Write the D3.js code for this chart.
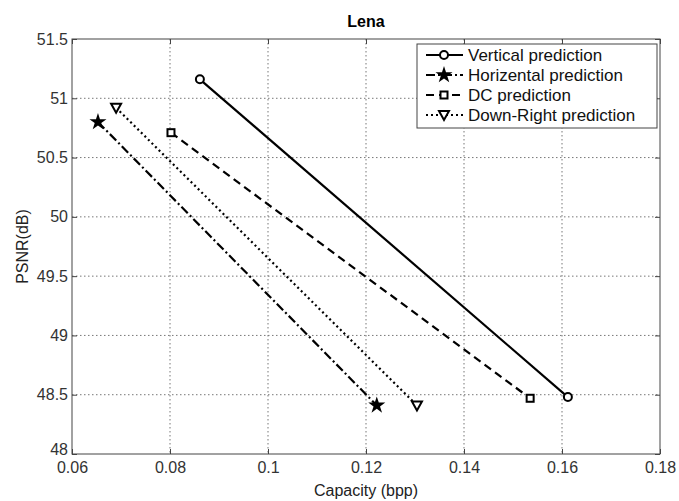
<!DOCTYPE html>
<html>
<head>
<meta charset="utf-8">
<script src="https://cdn.jsdelivr.net/npm/d3@7"></script>
<style>
  body { margin: 0; background: #fff; }
  svg { font-family: "Liberation Sans", Arial, sans-serif; }
</style>
</head>
<body>
<div id="chart"></div>
<script>
// data
const seriesNames = ["Vertical prediction", "Horizental prediction", "DC prediction", "Down-Right prediction"];
const vertical = [{ x: 0.0861, y: 51.16 }, { x: 0.1612, y: 48.48 }];
const horizental = [{ x: 0.0653, y: 50.80 }, { x: 0.1222, y: 48.41 }];
const dcPred = [{ x: 0.0802, y: 50.71 }, { x: 0.1535, y: 48.47 }];
const downRight = [{ x: 0.069, y: 50.92 }, { x: 0.1304, y: 48.41 }];
const xTicks = [0.06, 0.08, 0.1, 0.12, 0.14, 0.16, 0.18];
const yTicks = [48, 48.5, 49, 49.5, 50, 50.5, 51, 51.5];

const W = 679, H = 501;
const margin = { top: 39, right: 19, bottom: 47, left: 72 };
const width = W - margin.left - margin.right;
const height = H - margin.top - margin.bottom;

const svg = d3.select("#chart").append("svg")
  .attr("width", W).attr("height", H);
const g = svg.append("g").attr("transform", `translate(${margin.left},${margin.top})`);

const x = d3.scaleLinear().domain([0.06, 0.18]).range([0, width]);
const y = d3.scaleLinear().domain([48, 51.5]).range([height, 0]);

// grid
g.append("g").selectAll("line").data(xTicks.slice(1, -1)).enter().append("line")
  .attr("x1", d => x(d)).attr("x2", d => x(d)).attr("y1", 0).attr("y2", height)
  .attr("stroke", "#777").attr("stroke-dasharray", "1.5,2.5");
g.append("g").selectAll("line").data(yTicks.slice(1, -1)).enter().append("line")
  .attr("y1", d => y(d)).attr("y2", d => y(d)).attr("x1", 0).attr("x2", width)
  .attr("stroke", "#777").attr("stroke-dasharray", "1.5,2.5");

// axes with inward ticks
const fmt = d => String(+d.toFixed(2));
g.append("g").attr("transform", `translate(0,${height})`)
  .call(d3.axisBottom(x).tickValues(xTicks).tickFormat(fmt).tickSizeInner(-5).tickSizeOuter(0).tickPadding(8));
const yAxisG = g.append("g")
  .call(d3.axisLeft(y).tickValues(yTicks).tickFormat(fmt).tickSizeInner(-5).tickSizeOuter(0).tickPadding(4));
// lowest y label sits a little higher, as in the reference
yAxisG.selectAll(".tick text").filter(d => d === 48).attr("dy", "0.05em");
g.append("g").attr("transform", `translate(${width},0)`)
  .call(d3.axisRight(y).tickValues(yTicks).tickFormat("").tickSizeInner(-5).tickSizeOuter(0));
g.append("g")
  .call(d3.axisTop(x).tickValues(xTicks).tickFormat("").tickSizeInner(-5).tickSizeOuter(0));
g.selectAll(".domain").remove();
g.selectAll(".tick line").attr("stroke", "#444");
g.selectAll(".tick text").attr("font-size", 16).attr("fill", "#333");
g.append("rect").attr("width", width).attr("height", height)
  .attr("fill", "none").attr("stroke", "#444").attr("stroke-width", 1);

// series
const styles = [
  { data: vertical, dash: null, marker: "circle" },
  { data: horizental, dash: "9,3,2,3", marker: "star" },
  { data: dcPred, dash: "8,5", marker: "square" },
  { data: downRight, dash: "2,3", marker: "triangle" }
];

const line = d3.line().x(d => x(d.x)).y(d => y(d.y));

function drawMarker(sel, type, cx, cy) {
  if (type === "circle") {
    sel.append("circle").attr("cx", cx).attr("cy", cy).attr("r", 4)
      .attr("fill", "#fff").attr("stroke", "#000").attr("stroke-width", 2);
  } else if (type === "square") {
    sel.append("rect").attr("x", cx - 3.5).attr("y", cy - 3.5).attr("width", 7).attr("height", 7)
      .attr("fill", "#fff").attr("stroke", "#000").attr("stroke-width", 2);
  } else if (type === "triangle") {
    sel.append("path").attr("d", `M${cx - 5},${cy - 4}L${cx + 5},${cy - 4}L${cx},${cy + 5}Z`)
      .attr("fill", "#fff").attr("stroke", "#000").attr("stroke-width", 2);
  } else {
    sel.append("path").attr("d", d3.symbol(d3.symbolStar, 90)())
      .attr("transform", `translate(${cx},${cy})`).attr("fill", "#000");
  }
}

styles.forEach(s => {
  g.append("path").datum(s.data).attr("d", line)
    .attr("fill", "none").attr("stroke", "#000").attr("stroke-width", 2.2)
    .attr("stroke-dasharray", s.dash);
  s.data.forEach(d => drawMarker(g, s.marker, x(d.x), y(d.y)));
});

// legend
const lg = svg.append("g").attr("transform", "translate(417,44)");
lg.append("rect").attr("width", 240).attr("height", 84)
  .attr("fill", "#fff").attr("stroke", "#444");
seriesNames.forEach((name, i) => {
  const ry = 11 + i * 20;
  lg.append("line").attr("x1", 9).attr("x2", 46).attr("y1", ry).attr("y2", ry)
    .attr("stroke", "#000").attr("stroke-width", 2.2).attr("stroke-dasharray", styles[i].dash);
  drawMarker(lg, styles[i].marker, 27, ry);
  lg.append("text").attr("x", 51).attr("y", ry + 6).attr("font-size", 17).attr("fill", "#111").text(name);
});

// titles
svg.append("text").attr("x", margin.left + width / 2).attr("y", 27)
  .attr("text-anchor", "middle").attr("font-size", 16).attr("font-weight", "bold").text("Lena");
svg.append("text").attr("x", margin.left + width / 2).attr("y", 496)
  .attr("text-anchor", "middle").attr("font-size", 16).attr("fill", "#222").text("Capacity (bpp)");
svg.append("text").attr("transform", `translate(28,${margin.top + height / 2}) rotate(-90)`)
  .attr("text-anchor", "middle").attr("font-size", 16).attr("fill", "#222").text("PSNR(dB)");
</script>
</body>
</html>
